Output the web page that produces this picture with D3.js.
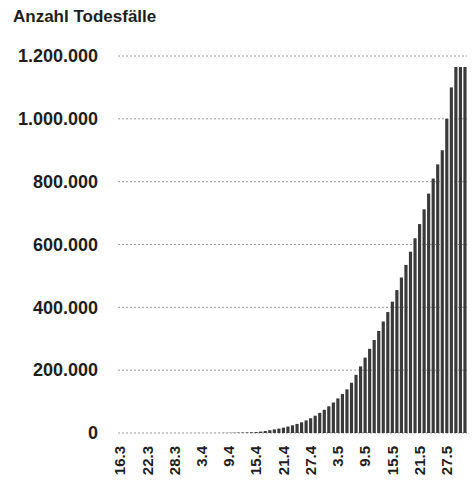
<!DOCTYPE html>
<meta charset="utf-8">
<script src="https://cdn.jsdelivr.net/npm/d3@7"></script>
<style>
    body { margin: 0; background: #fff; }
    .lbl { font-family: "Liberation Sans", Arial, sans-serif; font-weight: bold; fill: #1e1e1e; }
</style>
<body>
<script>
// one bar per day, 16.3 - 31.5
var days = ["16.3","17.3","18.3","19.3","20.3","21.3","22.3","23.3","24.3","25.3","26.3","27.3","28.3","29.3","30.3","31.3",
  "1.4","2.4","3.4","4.4","5.4","6.4","7.4","8.4","9.4","10.4","11.4","12.4","13.4","14.4","15.4","16.4","17.4","18.4","19.4","20.4",
  "21.4","22.4","23.4","24.4","25.4","26.4","27.4","28.4","29.4","30.4",
  "1.5","2.5","3.5","4.5","5.5","6.5","7.5","8.5","9.5","10.5","11.5","12.5","13.5","14.5","15.5","16.5","17.5","18.5","19.5","20.5",
  "21.5","22.5","23.5","24.5","25.5","26.5","27.5","28.5","29.5","30.5","31.5"];

var deaths = [10,15,20,25,30,40,50,60,70,80,90,100,110,120,130,140,
  150,160,170,185,200,300,400,550,700,900,1200,1500,1900,2400,3000,4500,6500,9000,11500,14000,
  17000,20500,24500,29000,34000,40000,47000,55000,64000,74000,
  85000,97000,110000,124000,139000,160000,185000,212000,240000,268000,296000,325000,355000,385000,418000,455000,495000,535000,577000,620000,
  665000,712000,762000,810000,855000,900000,1000000,1100000,1165000,1165000,1165000];

var xTicks = ["16.3","22.3","28.3","3.4","9.4","15.4","21.4","27.4","3.5","9.5","15.5","21.5","27.5"];
var yTicks = [0,200000,400000,600000,800000,1000000,1200000];

var W = 472, H = 491;
var plot = {left: 118, right: 467, top: 56, bottom: 433};

var de = d3.formatLocale({decimal: ",", thousands: ".", grouping: [3], currency: ["", "€"]});
var fmt = de.format(",");

var svg = d3.select("body").append("svg")
    .attr("width", W)
    .attr("height", H);

var x = d3.scaleBand().domain(days).range([plot.left, plot.right]).paddingInner(0.3).paddingOuter(0.1);
var y = d3.scaleLinear().domain([0, 1200000]).range([plot.bottom, plot.top]);

// title
svg.append("text")
    .attr("class", "lbl")
    .attr("x", 13).attr("y", 22)
    .attr("font-size", "17px")
    .text("Anzahl Todesfälle");

// grid
svg.selectAll(".grid")
    .data(yTicks)
    .enter().append("line")
    .attr("x1", plot.left).attr("x2", plot.right)
    .attr("y1", function(d) { return y(d); })
    .attr("y2", function(d) { return y(d); })
    .style("stroke", "#9a9a9a")
    .style("stroke-width", 1)
    .style("stroke-dasharray", "2,2");

// y labels
svg.selectAll(".ylab")
    .data(yTicks)
    .enter().append("text")
    .attr("class", "lbl")
    .attr("x", 98)
    .attr("y", function(d) { return y(d); })
    .attr("dy", "0.35em")
    .attr("text-anchor", "end")
    .attr("font-size", "18px")
    .text(function(d) { return fmt(d); });

// bars
svg.selectAll(".bar")
    .data(deaths)
    .enter().append("rect")
    .attr("x", function(d, i) { return x(days[i]); })
    .attr("width", x.bandwidth())
    .attr("y", function(d) { return y(d); })
    .attr("height", function(d) { return plot.bottom - y(d); })
    .style("fill", "#3a3a3a");

// x labels
svg.selectAll(".xlab")
    .data(xTicks)
    .enter().append("text")
    .attr("class", "lbl")
    .attr("transform", function(d) { return "translate(" + (x(d) + x.bandwidth() / 2) + ",446) rotate(-90)"; })
    .attr("dy", "0.35em")
    .attr("text-anchor", "end")
    .attr("font-size", "15px")
    .text(function(d) { return d; });
</script>
</body>
</html>
